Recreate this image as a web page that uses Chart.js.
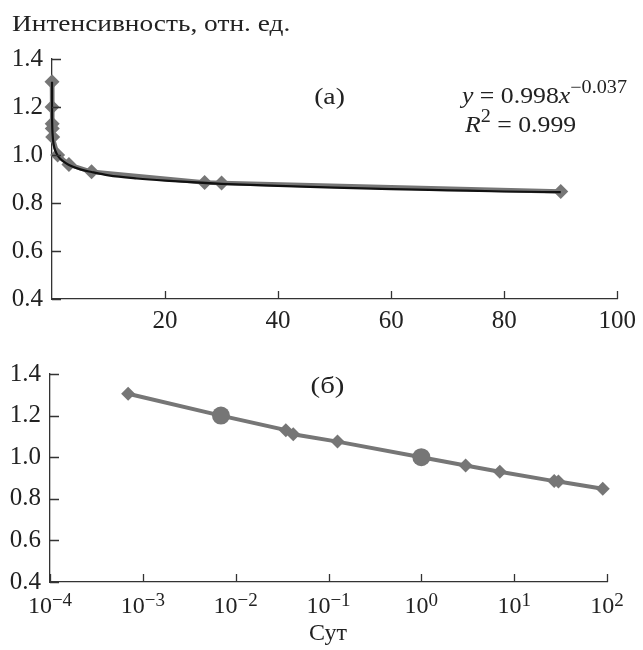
<!DOCTYPE html>
<html><head><meta charset="utf-8">
<script src="https://cdn.jsdelivr.net/npm/chart.js@4.4.0/dist/chart.umd.min.js"></script>
<style>
html,body{margin:0;padding:0;background:#fff;}
#wrap{position:relative;width:643px;height:650px;overflow:hidden;}
canvas{position:absolute;left:0;top:0;}
</style></head><body>
<div id="wrap"><canvas id="c1" width="643" height="650"></canvas><canvas id="c2" width="643" height="650"></canvas></div>
<script>
// ---- data ----
const times = [0.000694, 0.00694, 0.0347, 0.0417, 0.125, 1, 3, 7, 27, 30, 90]; // days
const intensity = [1.305, 1.20, 1.13, 1.11, 1.075, 1.00, 0.96, 0.93, 0.885, 0.883, 0.848];
const fitX = [0.0007, 0.003, 0.01, 0.03, 0.1, 0.3, 0.6, 1, 1.5, 2, 3, 5, 7, 10, 15, 20, 30, 40, 50, 60, 70, 80, 90];
const fitY = [1.305, 1.238, 1.183, 1.135, 1.087, 1.043, 1.017, 0.998, 0.983, 0.973, 0.958, 0.940, 0.929, 0.915, 0.902, 0.893, 0.880, 0.871, 0.864, 0.858, 0.853, 0.848, 0.845];
const yTickVals = [0.4, 0.6, 0.8, 1.0, 1.2, 1.4];
const xTickValsA = [20, 40, 60, 80, 100];
const xTickPowersB = [-4, -3, -2, -1, 0, 1, 2];
const refPointIdx = [1, 5];
const yTitle = 'Интенсивность, отн. ед.';
const xTitle = 'Сут';
const labelA = '(а)';
const labelB = '(б)';
const eqLine1 = [{t:'y', i:true}, {t:' = 0.998'}, {t:'x', i:true}, {t:'−0.037', s:true}];
const eqLine2 = [{t:'R', i:true}, {t:'2', s:true}, {t:' = 0.999'}];

// ---- style ----
const FONT = 'Liberation Serif';
const TXT = '#222';
const AX = '#333';
const GRAY = '#767676';

function fnt(size, italic) { return (italic ? 'italic ' : '') + size + 'px "' + FONT + '"'; }

function stretchText(ctx, text, x, y, size, sx, align) {
  ctx.font = fnt(size);
  const w = ctx.measureText(text).width * sx;
  let x0 = x;
  if (align === 'center') x0 = x - w / 2;
  ctx.save();
  ctx.translate(x0, y);
  ctx.scale(sx, 1);
  ctx.textAlign = 'left';
  ctx.fillText(text, 0, 0);
  ctx.restore();
}

function segText(ctx, segs, x, y, size, supSize, raise, sx) {
  ctx.save();
  ctx.translate(x, y);
  ctx.scale(sx, 1);
  let cx = 0;
  ctx.textAlign = 'left';
  segs.forEach(sg => {
    ctx.font = fnt(sg.s ? supSize : size, sg.i);
    ctx.fillText(sg.t, cx, sg.s ? -raise : 0);
    cx += ctx.measureText(sg.t).width;
  });
  ctx.restore();
}

const inwardTicks = {
  id: 'inwardTicks',
  afterDraw(chart, args, opts) {
    const {ctx, chartArea: a, scales: {x, y}} = chart;
    ctx.save();
    ctx.strokeStyle = AX; ctx.lineWidth = 1.3;
    ctx.beginPath();
    opts.xVals.forEach(v => { const px = Math.round(x.getPixelForValue(v)) + 0.5; ctx.moveTo(px, a.bottom); ctx.lineTo(px, a.bottom - 8); });
    opts.yVals.forEach(v => { const py = Math.round(y.getPixelForValue(v)) + 0.5; ctx.moveTo(a.left, py); ctx.lineTo(a.left + 9, py); });
    ctx.stroke();
    ctx.restore();
  }
};

const textsA = {
  id: 'textsA',
  afterDraw(chart) {
    const ctx = chart.ctx;
    ctx.save();
    ctx.fillStyle = TXT;
    ctx.textBaseline = 'alphabetic';
    stretchText(ctx, yTitle, 12, 31, 24, 1.14, 'left');
    stretchText(ctx, labelA, 329.5, 104, 24, 1.15, 'center');
    segText(ctx, eqLine1, 462, 103, 23, 18, 10, 1.12);
    segText(ctx, eqLine2, 465, 132, 23, 18, 10, 1.12);
    ctx.restore();
  }
};

const textsB = {
  id: 'textsB',
  afterDraw(chart) {
    const {ctx, scales: {x}} = chart;
    ctx.save();
    ctx.fillStyle = TXT;
    ctx.textBaseline = 'alphabetic';
    xTickPowersB.forEach(p => {
      const base = '10', sup = (p < 0 ? '−' : '') + Math.abs(p);
      ctx.font = fnt(24);
      const wb = ctx.measureText(base).width;
      ctx.font = fnt(19);
      const ws = ctx.measureText(sup).width;
      const px = x.getPixelForValue(Math.pow(10, p));
      const x0 = px - (wb + ws) / 2;
      ctx.textAlign = 'left';
      ctx.font = fnt(24);
      ctx.fillText(base, x0, 613);
      ctx.font = fnt(19);
      ctx.fillText(sup, x0 + wb, 606);
    });
    stretchText(ctx, xTitle, 328, 640, 24, 1.0, 'center');
    stretchText(ctx, labelB, 327.5, 393, 24, 1.2, 'center');
    ctx.restore();
  }
};

const yScale = (w) => ({
  min: 0.4, max: 1.4,
  afterFit: s => { s.width = w; },
  grid: {display: false, drawTicks: false},
  border: {display: true, color: AX, width: 1.3},
  ticks: {stepSize: 0.2, callback: v => Number(v).toFixed(1), font: {family: FONT, size: 25}, color: TXT, padding: 9}
});

// ---- chart (а) ----
new Chart(document.getElementById('c1'), {
  type: 'scatter',
  data: {
    datasets: [
      {data: fitX.map((x, i) => ({x, y: fitY[i]})), showLine: true, borderColor: '#111', borderWidth: 2.2,
       pointRadius: 0, cubicInterpolationMode: 'monotone', clip: false, order: 0},
      {data: times.map((x, i) => ({x, y: intensity[i]})), showLine: true, borderColor: GRAY, borderWidth: 4.5,
       pointStyle: 'rectRot', pointRadius: 7.5, pointBackgroundColor: GRAY, pointBorderWidth: 0, clip: false, order: 1}
    ]
  },
  options: {
    responsive: false, animation: false,
    layout: {padding: {left: 0, top: 59, right: 22, bottom: 650 - 299 - 40}},
    plugins: {legend: {display: false}, tooltip: {enabled: false},
      inwardTicks: {xVals: xTickValsA, yVals: yTickVals}},
    scales: {
      x: {type: 'linear', min: 0, max: 100,
        afterFit: s => { s.height = 40; },
        grid: {display: false, drawTicks: false},
        border: {display: true, color: AX, width: 1.3},
        ticks: {stepSize: 20, autoSkip: false, maxRotation: 0, callback: v => (v === 0 ? '' : String(v)),
          font: {family: FONT, size: 25}, color: TXT, padding: 7}},
      y: yScale(52)
    }
  },
  plugins: [inwardTicks, textsA]
});

// ---- chart (б) ----
new Chart(document.getElementById('c2'), {
  type: 'scatter',
  data: {
    datasets: [
      {data: times.map((x, i) => ({x, y: intensity[i]})), showLine: true, borderColor: GRAY, borderWidth: 4,
       pointStyle: c => (refPointIdx.includes(c.dataIndex) ? 'circle' : 'rectRot'),
       pointRadius: c => (refPointIdx.includes(c.dataIndex) ? 9 : 7),
       pointBackgroundColor: GRAY, pointBorderWidth: 0, clip: false}
    ]
  },
  options: {
    responsive: false, animation: false,
    layout: {padding: {left: 0, top: 374, right: 36, bottom: 650 - 582 - 20}},
    plugins: {legend: {display: false}, tooltip: {enabled: false},
      inwardTicks: {xVals: xTickPowersB.map(p => Math.pow(10, p)), yVals: yTickVals}},
    scales: {
      x: {type: 'logarithmic', min: 1e-4, max: 100,
        afterFit: s => { s.height = 20; },
        grid: {display: false, drawTicks: false},
        border: {display: true, color: AX, width: 1.3},
        ticks: {display: false}},
      y: yScale(50)
    }
  },
  plugins: [inwardTicks, textsB]
});
</script>
</body></html>
